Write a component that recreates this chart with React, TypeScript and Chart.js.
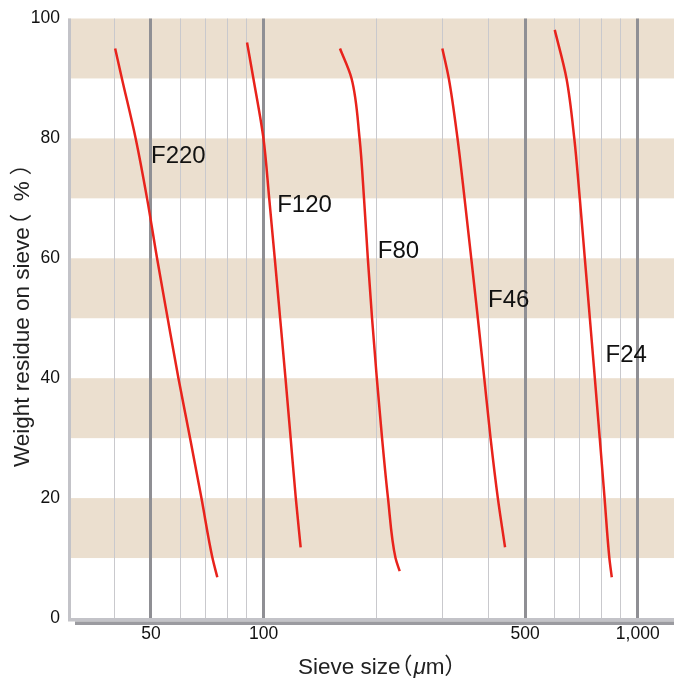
import { useEffect, useRef } from "react";
import { Chart, registerables } from "chart.js";

Chart.register(...registerables);

// ---- data ----
const X_MIN = 30;
const X_MAX = 1250;
const Y_MIN = 0;
const Y_MAX = 100;
const Y_STEP = 20;

const GRID_VALUES = [40, 50, 60, 70, 80, 90, 100, 200, 300, 400, 500, 600, 700, 800, 900, 1000];
const MAJOR_VALUES = [50, 100, 500, 1000];
const X_TICK_LABELS = ["50", "100", "500", "1,000"];
const BAND_STARTS = [10, 30, 50, 70, 90];
const BAND_SIZE = 10;

const SERIES_NAMES = ["F220", "F120", "F80", "F46", "F24"];

const F220_X = [40.1, 41.8, 45.5, 48.8, 51.9, 55.4, 59.2, 63.6, 68.2, 73.0, 75.2];
const F220_Y = [95, 90, 80, 70, 60, 50, 40, 30, 20, 10, 6.8];

const F120_X = [90.3, 93.9, 99.9, 103.5, 107.1, 110.7, 114.4, 118.1, 121.9, 125.6];
const F120_Y = [96, 90, 80, 70, 60, 50, 40, 30, 20, 11.8];

const F80_X = [160.0, 171.8, 180.5, 185.5, 189.9, 194.9, 200.7, 207.3, 215.0, 225.2, 231.1];
const F80_Y = [95, 90, 80, 70, 60, 50, 40, 30, 20, 10, 7.8];

const F46_X = [300.4, 312.6, 329.8, 344.4, 358.9, 373.8, 388.8, 404.2, 422.7, 441.9];
const F46_Y = [95, 90, 80, 70, 60, 50, 40, 30, 20, 11.8];

const F24_X = [600, 645, 676.7, 700, 722, 744.7, 767.9, 791.5, 815.3, 839.8, 852.3];
const F24_Y = [98.1, 90, 80, 70, 60, 50, 40, 30, 20, 10, 6.8];

const SERIES_X = [F220_X, F120_X, F80_X, F46_X, F24_X];
const SERIES_Y = [F220_Y, F120_Y, F80_Y, F46_Y, F24_Y];

// label anchors (data units)
const LABEL_X = [50, 108.7, 202, 398, 820];
const LABEL_Y = [77, 68.8, 61.2, 52.9, 43.8];

const Y_TITLE_PARTS = ["Weight residue on sieve", "（", "%", "）"];
const X_TITLE_PARTS = ["Sieve size", "（", "μ", "m", "）"];

// ---- styles ----
const FONT = "'Liberation Sans', Arial, Helvetica, 'Noto Sans CJK JP', sans-serif";
const BAND_COLOR = "#ebdfcf";
const RED = "#e8231c";
const MAJOR_GRID = "#8f8f94";
const MINOR_GRID = "#c9c9cd";
const FRAME_LIGHT = "#c3c3c8";
const FRAME_DARK = "#9b9ba0";
const TEXT = "#111111";
const TITLE_COLOR = "#222222";
// gap = space from previous glyph's visible right edge to this glyph's visible left edge; null = natural advance
const Y_TITLE_STYLE = { size: 22.5, italic: [false, false, false, false], gap: [0, 6.5, 13, 7] };
const X_TITLE_STYLE = { size: 22.5, italic: [false, false, true, false, false], gap: [0, 5, 0.5, null, 1.5] };

function drawParts(ctx: CanvasRenderingContext2D, parts: string[], style: any, x0: number, y0: number) {
  let right = x0;
  let pen = x0;
  parts.forEach((p, i) => {
    ctx.font = `${style.italic[i] ? "italic " : ""}${style.size}px ${FONT}`;
    const m = ctx.measureText(p);
    let x: number;
    if (i === 0) x = x0 + m.actualBoundingBoxLeft;
    else if (style.gap[i] === null) x = pen;
    else x = right + style.gap[i] + m.actualBoundingBoxLeft;
    ctx.fillText(p, x, y0);
    pen = x + m.width;
    right = x + m.actualBoundingBoxRight;
  });
}

export default function App() {
  const ref = useRef<HTMLCanvasElement>(null);

  useEffect(() => {
    const canvas = ref.current;
    if (!canvas) return;

    const decor = {
      id: "decor",
      beforeDraw(chart: any) {
        const { ctx, chartArea, scales } = chart;
        const y = scales.y;
        ctx.save();
        ctx.fillStyle = BAND_COLOR;
        BAND_STARTS.forEach((b) => {
          const y1 = y.getPixelForValue(b + BAND_SIZE);
          const y0 = y.getPixelForValue(b);
          ctx.fillRect(chartArea.left, y1, chartArea.right - chartArea.left, y0 - y1);
        });
        ctx.restore();
      },
      afterDatasetsDraw(chart: any) {
        const { ctx, chartArea, scales } = chart;
        ctx.save();
        // frame
        ctx.fillStyle = FRAME_LIGHT;
        ctx.fillRect(chartArea.left, chartArea.top, 3, chartArea.bottom - chartArea.top + 3);
        ctx.fillRect(chartArea.left, chartArea.bottom, chartArea.right - chartArea.left, 3.5);
        ctx.fillStyle = FRAME_DARK;
        ctx.fillRect(chartArea.left + 7, chartArea.bottom + 3.5, chartArea.right - chartArea.left - 7, 3.5);
        // series labels
        ctx.fillStyle = TEXT;
        ctx.font = `24px ${FONT}`;
        ctx.textAlign = "left";
        ctx.textBaseline = "middle";
        SERIES_NAMES.forEach((n, i) => {
          ctx.fillText(n, scales.x.getPixelForValue(LABEL_X[i]), scales.y.getPixelForValue(LABEL_Y[i]));
        });
        ctx.restore();
      },
      afterDraw(chart: any) {
        const { ctx } = chart;
        ctx.save();
        ctx.fillStyle = TITLE_COLOR;
        ctx.textAlign = "left";
        ctx.textBaseline = "alphabetic";
        ctx.translate(28.5, 467);
        ctx.rotate(-Math.PI / 2);
        drawParts(ctx, Y_TITLE_PARTS, Y_TITLE_STYLE, 0, 0);
        ctx.restore();

        ctx.save();
        ctx.fillStyle = TITLE_COLOR;
        ctx.textAlign = "left";
        ctx.textBaseline = "alphabetic";
        drawParts(ctx, X_TITLE_PARTS, X_TITLE_STYLE, 299, 674);
        ctx.restore();
      },
    };

    const datasets = SERIES_NAMES.map((name, i) => ({
      label: name,
      data: SERIES_X[i].map((xv, j) => ({ x: xv, y: SERIES_Y[i][j] })),
      borderColor: RED,
      borderWidth: 2.5,
      pointRadius: 0,
      fill: false,
      cubicInterpolationMode: "monotone" as const,
    }));

    const chart = new Chart(canvas, {
      type: "line",
      data: { datasets },
      options: {
        indexAxis: "y",
        animation: false,
        responsive: true,
        maintainAspectRatio: false,
        layout: { padding: { top: 15, right: 0, left: 0, bottom: 0 } },
        plugins: { legend: { display: false }, tooltip: { enabled: false } },
        scales: {
          x: {
            type: "logarithmic",
            position: "bottom",
            min: X_MIN,
            max: X_MAX,
            afterBuildTicks: (s: any) => {
              s.ticks = GRID_VALUES.map((v) => ({ value: v }));
            },
            afterFit: (s: any) => {
              s.height = 60;
            },
            ticks: {
              autoSkip: false,
              maxRotation: 0,
              padding: 6,
              color: TEXT,
              font: { family: FONT, size: 17.5 },
              callback: (v: any) => {
                const k = MAJOR_VALUES.indexOf(Number(v));
                return k >= 0 ? X_TICK_LABELS[k] : "";
              },
            },
            grid: {
              drawTicks: false,
              color: (c: any) => (MAJOR_VALUES.includes(c.tick?.value) ? MAJOR_GRID : MINOR_GRID),
              lineWidth: (c: any) => (MAJOR_VALUES.includes(c.tick?.value) ? 3 : 1),
            },
            border: { display: false },
          },
          y: {
            type: "linear",
            position: "left",
            min: Y_MIN,
            max: Y_MAX,
            afterFit: (s: any) => {
              s.width = 68;
            },
            ticks: {
              stepSize: Y_STEP,
              padding: 8,
              color: TEXT,
              font: { family: FONT, size: 17.5 },
            },
            grid: { display: false, drawTicks: false },
            border: { display: false },
          },
        },
      },
      plugins: [decor],
    } as any);

    return () => chart.destroy();
  }, []);

  return (
    <div style={{ position: "absolute", left: 0, top: 0, width: 674, height: 678 }}>
      <canvas ref={ref} />
    </div>
  );
}
